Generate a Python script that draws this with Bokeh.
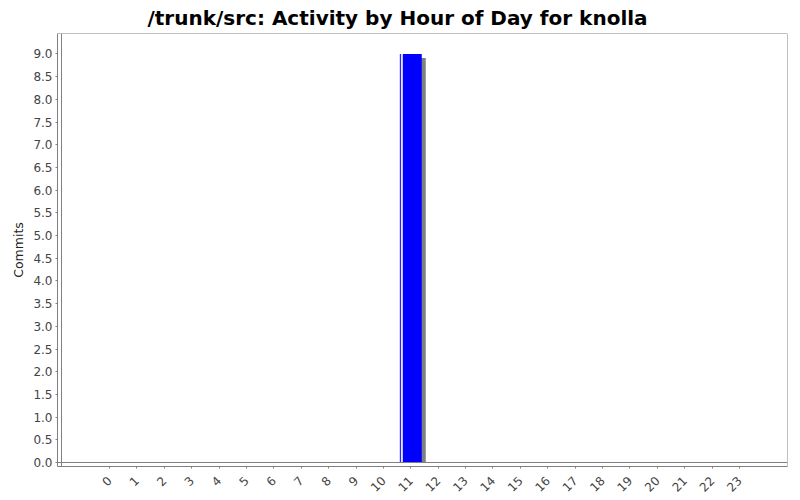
import math
from bokeh.plotting import figure
from bokeh.models import Range1d, FixedTicker, Span, NumeralTickFormatter
from bokeh.embed import file_html
from bokeh.resources import INLINE

# ---- data ----
hours = list(range(24))
hour_labels = [str(h) for h in hours]
commits = [0, 0, 0, 0, 0, 0, 0, 0, 0, 0, 0, 9, 0, 0, 0, 0, 0, 0, 0, 0, 0, 0, 0, 0]
y_ticks = [i * 0.5 for i in range(19)]

title_text = "/trunk/src: Activity by Hour of Day for knolla"
y_label = "Commits"

# ---- geometry helpers (pixel-based) ----
PX_X = 27.44          # pixels per hour
PX_Y = 45.4           # pixels per commit
x_start = -52 / PX_X
x_end = 23 + 48 / PX_X
y_end = max(commits) * 1.05
y_start = -4 / PX_Y
bar_w = 0.8

bars_x = [h for h, c in zip(hours, commits) if c > 0]
bars_top = [c for c in commits if c > 0]

p = figure(
    frame_width=730, frame_height=433,
    x_range=Range1d(x_start, x_end), y_range=Range1d(y_start, y_end),
    output_backend="svg", toolbar_location=None,
    title=title_text,
    min_border_left=57, min_border_right=4, min_border_top=10, min_border_bottom=10,
)
p.background_fill_color = "white"
p.border_fill_color = "white"
p.outline_line_color = None
p.xgrid.visible = False
p.ygrid.visible = False

p.title.align = "left"
p.title.offset = 90
p.title.text_font = "DejaVu Sans"
p.title.text_font_size = "20px"
p.title.text_font_style = "bold"
p.title.text_color = "black"
p.title.standoff = 7

# shadow
p.vbar(x=[x + 4 / PX_X for x in bars_x], top=[t - 4 / PX_Y for t in bars_top], bottom=0,
       width=bar_w, fill_color="#808080", line_color=None)
# main bar
p.vbar(x=bars_x, top=bars_top, bottom=0, width=bar_w, fill_color="#0000ff", line_color=None)
# highlight stripe
p.vbar(x=[x - bar_w / 2 + 2 / PX_X for x in bars_x], top=bars_top, bottom=0,
       width=2 / PX_X, fill_color="#e8e8ff", line_color=None)

# plot area border (offset from axes, as in the original)
border_kw = dict(line_color="#808080", line_width=1)
p.add_layout(Span(location=0, dimension="width", **border_kw))
p.add_layout(Span(location=y_end, dimension="width", **border_kw))
p.add_layout(Span(location=x_start + 4 / PX_X, dimension="height", **border_kw))
p.add_layout(Span(location=x_end, dimension="height", **border_kw))

# y axis
ya = p.yaxis[0]
ya.ticker = FixedTicker(ticks=y_ticks)
ya.formatter = NumeralTickFormatter(format="0.0")
ya.axis_label = y_label
ya.axis_label_text_font = "DejaVu Sans"
ya.axis_label_text_font_size = "12.5px"
ya.axis_label_text_font_style = "normal"
ya.axis_label_text_color = "#222222"
ya.axis_label_standoff = 4
ya.major_label_text_font = "DejaVu Sans"
ya.major_label_text_font_size = "12px"
ya.major_label_text_color = "#444444"
ya.axis_line_color = "#808080"
ya.major_tick_line_color = "#808080"
ya.major_tick_in = 0
ya.major_tick_out = 2
ya.minor_tick_line_color = None
ya.major_label_standoff = 3

# x axis
xa = p.xaxis[0]
xa.ticker = FixedTicker(ticks=hours)
xa.major_label_overrides = {h: lab for h, lab in zip(hours, hour_labels)}
xa.major_label_orientation = math.pi / 4
xa.major_label_text_font = "DejaVu Sans"
xa.major_label_text_font_size = "12px"
xa.major_label_text_color = "#444444"
xa.axis_line_color = "#808080"
xa.major_tick_line_color = "#808080"
xa.major_tick_in = 0
xa.major_tick_out = 2
xa.minor_tick_line_color = None
xa.major_label_standoff = 10

open("out.html", "w").write(file_html(p, INLINE))
